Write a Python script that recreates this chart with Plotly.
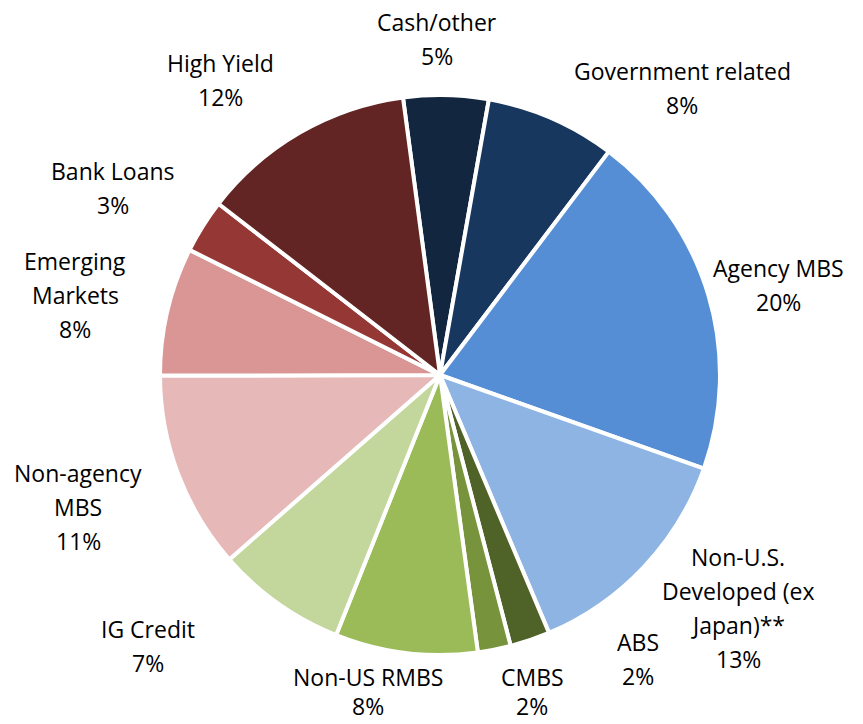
import plotly.graph_objects as go

W, H = 863, 724

categories = ["Cash/other", "Government related", "Agency MBS", "Non-U.S. Developed (ex Japan)**",
              "ABS", "CMBS", "Non-US RMBS", "IG Credit", "Non-agency MBS",
              "Emerging Markets", "Bank Loans", "High Yield"]
values = [4.9, 7.5, 20.1, 13.2, 2.3, 1.9, 8.2, 7.5, 11.4, 7.4, 3.1, 12.4]
pct_labels = ["5%", "8%", "20%", "13%", "2%", "2%", "8%", "7%", "11%", "8%", "3%", "12%"]
label_lines = [["Cash/other"], ["Government related"], ["Agency MBS"],
               ["Non-U.S.", "Developed (ex", "Japan)**"], ["ABS"], ["CMBS"],
               ["Non-US RMBS"], ["IG Credit"], ["Non-agency", "MBS"],
               ["Emerging", "Markets"], ["Bank Loans"], ["High Yield"]]
colors = ["#12263F", "#17375E", "#558ED5", "#8EB4E3", "#4F6228", "#77933C",
          "#9BBB59", "#C3D69B", "#E6B9B8", "#D99694", "#953735", "#632523"]

# label anchor positions (pixel centre of first line)
label_pos = [(437, 22), (682, 71), (778, 268), (738, 557), (638, 642), (532, 677),
             (368, 677), (148, 629), (78, 473), (75, 261), (113, 171), (220, 63)]
LINE = 34
BOTTOM_LIMIT = H - 18

fig = go.Figure(go.Pie(
    labels=categories, values=values, sort=False, direction="clockwise",
    rotation=-7.6, textinfo="none", hoverinfo="label+percent",
    marker=dict(colors=colors, line=dict(color="white", width=4)),
    domain=dict(x=[160 / W, 720 / W], y=[1 - 655 / H, 1 - 95 / H]),
    showlegend=False,
))

ann = []
for lines, pct, (px, py) in zip(label_lines, pct_labels, label_pos):
    n = len(lines)
    step = LINE if py + n * LINE <= BOTTOM_LIMIT else (BOTTOM_LIMIT - py) / n
    for i, t in enumerate(lines + [pct]):
        ann.append(dict(x=px / W, y=1 - (py + i * step) / H, xref="paper", yref="paper",
                        text=t, showarrow=False, xanchor="center", yanchor="middle",
                        font=dict(family="Open Sans", size=23, color="#000000")))

fig.update_layout(width=W, height=H, margin=dict(l=0, r=0, t=0, b=0),
                  paper_bgcolor="white", plot_bgcolor="white", annotations=ann)
fig.write_html("out.html")
